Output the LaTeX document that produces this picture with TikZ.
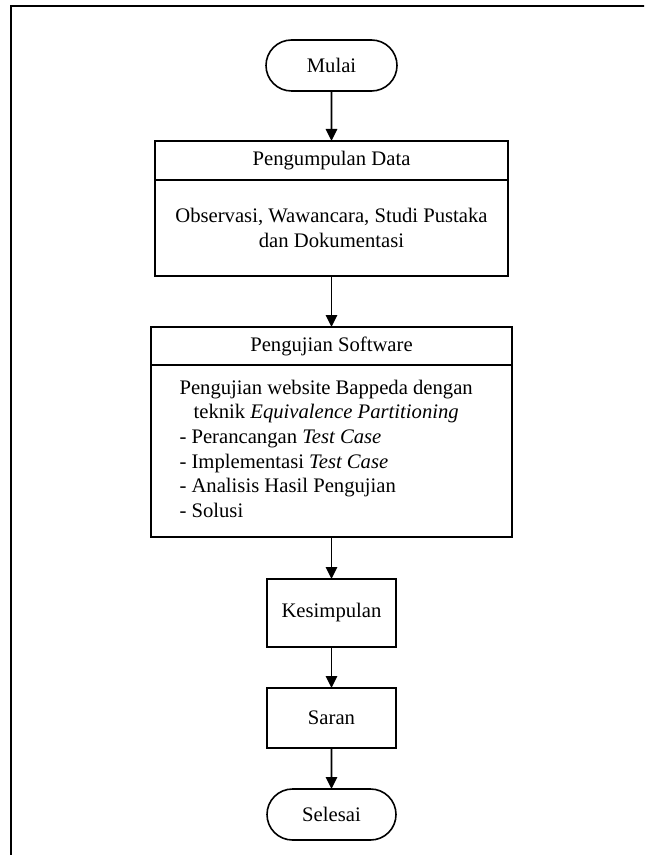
\documentclass[tikz,border=0pt]{standalone}
\usepackage{fontspec}
\setmainfont{Liberation Serif}
\usetikzlibrary{positioning,arrows.meta,shapes.misc}

\begin{document}
\begin{tikzpicture}[
  x=0.75pt, y=-0.75pt,
  every node/.style={font=\rmfamily\fontsize{15.5}{18.5}\selectfont,
                     inner sep=0pt, outer sep=0pt},
  term/.style={draw, rounded rectangle, minimum width=98.25pt,
               minimum height=38.25pt, line width=1.2pt},
  box/.style={draw, rectangle, align=center, line width=1.2pt},
  arr/.style={-{Triangle[length=9pt,width=8.5pt]}, line width=1.2pt},
]
\clip (0,0) rectangle (644,855);
% outer frame (cut at right and bottom)
\draw[line width=1.2pt] (11,6) rectangle (670,880);

%% Nodes
\node[term] (mulai) at (331.5,65.5) {Mulai};

\node[box, minimum width=264.75pt, minimum height=29.25pt]
  (dataT) at (331.5,160.5) {Pengumpulan Data};
\node[box, minimum width=264.75pt, minimum height=72pt, below=0pt of dataT]
  (dataB) {Observasi, Wawancara, Studi Pustaka\\dan Dokumentasi};

\node[box, minimum width=270.75pt, minimum height=28.5pt]
  (ujiT) at (331.5,346) {Pengujian Software};
\node[box, minimum width=270.75pt, minimum height=129pt, below=0pt of ujiT]
  (ujiB) {\hspace*{-8pt}\begin{tabular}{@{}l@{}}
    \multicolumn{1}{@{}c@{}}{Pengujian website Bappeda dengan}\\
    \multicolumn{1}{@{}c@{}}{teknik \textit{Equivalence Partitioning}}\\
    - Perancangan \textit{Test Case}\\
    - Implementasi \textit{Test Case}\\
    - Analisis Hasil Pengujian\\
    - Solusi
  \end{tabular}};

\node[box, minimum width=96.75pt, minimum height=51pt]
  (simpul) at (331.5,613) {Kesimpulan};
\node[box, minimum width=96.75pt, minimum height=45pt]
  (saran) at (331.5,718) {Saran};
\node[term, minimum width=96.75pt] (selesai) at (331.5,814.5) {Selesai};

%% Transitions
\draw[arr] (mulai) -- (dataT);
\draw[arr] (dataB) -- (ujiT);
\draw[arr] (ujiB) -- (simpul);
\draw[arr] (simpul) -- (saran);
\draw[arr] (saran) -- (selesai);

\end{tikzpicture}
\end{document}
